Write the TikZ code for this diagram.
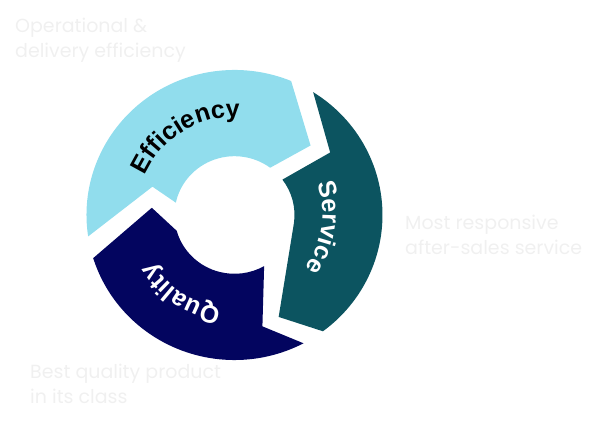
\documentclass[tikz,border=0pt]{standalone}
\usepackage{fontspec}
\setmainfont{Liberation Sans}
\newfontfamily\capfont{Poppins}
\usetikzlibrary{decorations.text}
\definecolor{effblue}{RGB}{145,221,237}
\definecolor{servteal}{RGB}{12,84,96}
\definecolor{qualnavy}{RGB}{3,5,95}
\definecolor{captxt}{RGB}{240,240,240}
\tikzset{
  caption/.style={anchor=base west, align=left, inner sep=0pt,
    font=\capfont\fontsize{19}{25}\selectfont, text=captxt},
  seglabel/.style={decorate, decoration={text along path, text align=center,
    text color=#1}},
}
\begin{document}
\begin{tikzpicture}[x=1pt,y=1pt]
\useasboundingbox (0,0) rectangle (590,423);
\begin{scope}[shift={(234.5,208)}, yscale=0.98]
  % Efficiency segment
  \fill[effblue] (188.5:148) arc[start angle=188.5,end angle=67.5,radius=148]
    -- (43:104) -- (53.5:60) arc[start angle=53.5,end angle=167.9,radius=60]
    -- (160.6:87) -- cycle;
  % Service segment
  \fill[servteal] (57.9:148) arc[start angle=57.9,end angle=-53.3,radius=148]
    -- (-67:113) -- (-8:60) arc[start angle=-8,end angle=37,radius=60]
    -- (33.7:115) -- cycle;
  % Quality segment
  \fill[qualnavy] (-62.2:148) arc[start angle=-62.2,end angle=-162.7,radius=148]
    -- (174.9:83) -- (195.6:60) arc[start angle=195.6,end angle=299.6,radius=60]
    -- (-76.2:117) -- cycle;
\end{scope}
\begin{scope}[shift={(234.5,208)}]
  \path[seglabel=black, decoration={text={|\bfseries\fontsize{25}{25}\selectfont|Efficiency}}]
    (196.5:98) arc[start angle=196.5,end angle=46.5,radius=98];
  \path[seglabel=white, decoration={text={|\bfseries\fontsize{25}{25}\selectfont|Service}}]
    (62:88) arc[start angle=62,end angle=-78,radius=88];
  \path[seglabel=white, decoration={text={|\bfseries\fontsize{25}{25}\selectfont|Quality}}]
    (-54:94) arc[start angle=-54,end angle=-194,radius=94];
\end{scope}
\node[caption] (cap1) at (15,365) {Operational \&\\delivery efficiency};
\node[caption] (cap2) at (405,168) {Most responsive\\after-sales service};
\node[caption] (cap3) at (30,19) {Best quality product\\in its class};
\end{tikzpicture}
\end{document}
